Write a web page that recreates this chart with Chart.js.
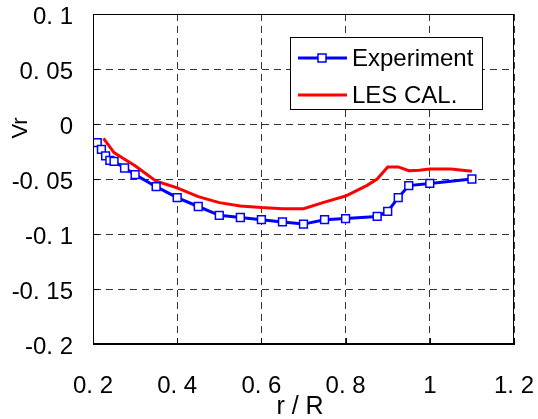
<!DOCTYPE html>
<html>
<head>
<meta charset="utf-8">
<script src="https://cdn.jsdelivr.net/npm/chart.js@4.4.1/dist/chart.umd.min.js"></script>
<style>
  html, body { margin: 0; padding: 0; background: #fff; }
  #mycanvas { display: block; }
</style>
</head>
<body>
<canvas id="mycanvas" width="538" height="419"></canvas>
<script>
// measured radial velocity
var expR  = [0.21, 0.22, 0.23, 0.24, 0.25, 0.275, 0.3, 0.35, 0.4, 0.45, 0.5, 0.55, 0.6, 0.65, 0.7, 0.75, 0.8, 0.875, 0.9, 0.925, 0.95, 1.0, 1.1];
var expVr = [-0.017, -0.023, -0.029, -0.033, -0.034, -0.040, -0.046, -0.057, -0.067, -0.075, -0.083, -0.085, -0.087, -0.089, -0.091, -0.087, -0.086, -0.084, -0.0795, -0.067, -0.056, -0.054, -0.050];

// LES result
var lesR  = [0.225, 0.25, 0.275, 0.3, 0.325, 0.35, 0.375, 0.4, 0.45, 0.5, 0.55, 0.6, 0.65, 0.7, 0.75, 0.8, 0.85, 0.875, 0.9, 0.925, 0.95, 0.975, 1.0, 1.05, 1.1];
var lesVr = [-0.013, -0.026, -0.032, -0.038, -0.045, -0.052, -0.055, -0.058, -0.066, -0.0715, -0.0745, -0.076, -0.077, -0.077, -0.071, -0.0655, -0.056, -0.050, -0.039, -0.039, -0.0425, -0.042, -0.041, -0.041, -0.043];

var xTickLabels = ["0. 2", "0. 4", "0. 6", "0. 8", "1", "1. 2"];
var yTickLabels = ["-0. 2", "-0. 15", "-0. 1", "-0. 05", "0", "0. 05", "0. 1"];

var FONT = "'Liberation Sans', Arial, sans-serif";

function toPoints(xs, ys) {
  var pts = [];
  for (var i in xs) {
    pts.push({x: xs[i], y: ys[i]});
  }
  return pts;
}

// frame, inward ticks, axis titles and boxed legend
var decor = {
  id: 'decor',
  afterDraw: function(chart) {
    var c = chart.ctx, a = chart.chartArea;
    var xs = chart.scales.x, ys = chart.scales.y;
    c.save();
    c.strokeStyle = '#000';
    c.lineWidth = 1;
    c.setLineDash([]);
    c.strokeRect(a.left + 0.5, a.top + 0.5, a.right - a.left - 1, a.bottom - a.top - 1);

    c.beginPath();
    ys.ticks.forEach(function(t) {
      var py = Math.round(ys.getPixelForValue(t.value)) + 0.5;
      c.moveTo(a.left, py); c.lineTo(a.left + 6, py);
    });
    xs.ticks.forEach(function(t) {
      var px = Math.round(xs.getPixelForValue(t.value)) + 0.5;
      c.moveTo(px, a.bottom); c.lineTo(px, a.bottom - 6);
    });
    c.stroke();

    // axis titles
    c.fillStyle = '#000';
    c.font = '25px ' + FONT;
    c.textAlign = 'center';
    c.textBaseline = 'middle';
    c.fillText('r / R', 300, 407);
    c.save();
    c.translate(21, 128);
    c.rotate(-Math.PI / 2);
    c.font = '22px ' + FONT;
    c.fillText('Vr', 0, 0);
    c.restore();

    // legend box
    var bx = 290, by = 37, bw = 192, bh = 72;
    c.fillStyle = '#fff';
    c.fillRect(bx, by, bw, bh);
    c.strokeRect(bx + 0.5, by + 0.5, bw, bh);
    var rows = [58, 95];
    chart.data.datasets.forEach(function(ds, i) {
      var ry = rows[i];
      c.strokeStyle = ds.borderColor;
      c.lineWidth = 3;
      c.beginPath();
      c.moveTo(298, ry); c.lineTo(347, ry);
      c.stroke();
      if (ds.pointRadius > 0) {
        c.fillStyle = '#fff';
        c.lineWidth = 1.5;
        c.fillRect(318, ry - 4, 8, 8);
        c.strokeRect(318, ry - 4, 8, 8);
      }
      c.fillStyle = '#000';
      c.font = '24px ' + FONT;
      c.textAlign = 'left';
      c.fillText(ds.label, 352, ry + 1);
    });
    c.restore();
  }
};

var chartdata = {
  datasets: [
    {
      label: "Experiment",
      data: toPoints(expR, expVr),
      borderColor: "#0000ff",
      backgroundColor: "#0000ff",
      borderWidth: 3,
      tension: 0,
      pointStyle: 'rect',
      pointRadius: 5.5,
      pointBorderWidth: 1.5,
      pointBackgroundColor: "#ffffff",
      pointBorderColor: "#0000ff"
    },
    {
      label: "LES CAL.",
      data: toPoints(lesR, lesVr),
      borderColor: "#ff0000",
      backgroundColor: "#ff0000",
      borderWidth: 3,
      tension: 0,
      pointRadius: 0
    }
  ]
};

var ctx = document.getElementById('mycanvas');

var LineGraph = new Chart(ctx, {
  type: 'line',
  data: chartdata,
  plugins: [decor],
  options: {
    responsive: false,
    animation: false,
    layout: { padding: { left: 0, right: 24, top: 14, bottom: 0 } },
    plugins: {
      legend: { display: false },
      tooltip: { enabled: false }
    },
    scales: {
      x: {
        type: 'linear',
        min: 0.2,
        max: 1.2,
        afterFit: function(scale) {
          scale.height = 75;
          scale.paddingLeft = 0; scale.paddingRight = 0;
        },
        afterBuildTicks: function(scale) {
          scale.ticks = [0.2, 0.4, 0.6, 0.8, 1.0, 1.2].map(function(v) { return {value: v}; });
        },
        ticks: {
          maxRotation: 0,
          autoSkip: false,
          padding: 28,
          color: '#000',
          font: { family: FONT, size: 24 },
          callback: function(v, i) { return xTickLabels[i]; }
        },
        grid: { color: '#333', lineWidth: 1, drawTicks: false },
        border: { display: true, color: '#000', width: 1, dash: [7, 5] }
      },
      y: {
        type: 'linear',
        min: -0.2,
        max: 0.1,
        afterFit: function(scale) {
          scale.width = 93;
          scale.paddingTop = 0; scale.paddingBottom = 0;
        },
        afterBuildTicks: function(scale) {
          scale.ticks = [-0.2, -0.15, -0.1, -0.05, 0, 0.05, 0.1].map(function(v) { return {value: v}; });
        },
        ticks: {
          padding: 20,
          labelOffset: 3,
          color: '#000',
          font: { family: FONT, size: 24 },
          callback: function(v, i) { return yTickLabels[i]; }
        },
        grid: { color: '#333', lineWidth: 1, drawTicks: false },
        border: { display: true, color: '#000', width: 1, dash: [7, 5] }
      }
    }
  }
});
</script>
</body>
</html>
